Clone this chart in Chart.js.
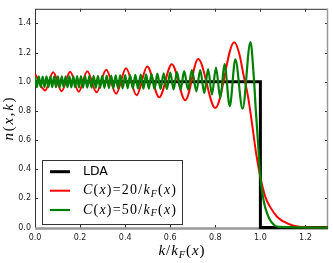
<!DOCTYPE html>
<html>
<head>
<meta charset="utf-8">
<title>n(x,k)</title>
<script src="https://cdn.jsdelivr.net/npm/chart.js@4.4.0/dist/chart.umd.min.js"></script>
<style>
  body { margin: 0; background: #fff; }
  canvas { display: block; }
</style>
</head>
<body>
<canvas id="nkChart" width="333" height="263"></canvas>
<script>
// ---------------- values ----------------
const xTicks = [0.0, 0.2, 0.4, 0.6, 0.8, 1.0, 1.2];
const yTicks = [0.0, 0.2, 0.4, 0.6, 0.8, 1.0, 1.2, 1.4];

// LDA: plain Fermi step
const ldaK = [0, 1, 1, 1.3];
const ldaN = [1, 1, 0, 0];

// C(x) = 20/kF(x)  (peaks and troughs, then the tail)
const redK = [0.000, 0.045, 0.081, 0.118, 0.156, 0.194, 0.232, 0.273, 0.316, 0.360,
              0.404, 0.451, 0.498, 0.551, 0.607, 0.667, 0.724, 0.800, 0.884,
              0.905, 0.926, 0.945, 0.965, 0.982, 1.000, 1.022, 1.044, 1.074, 1.104,
              1.148, 1.200, 1.300];
const redN = [1.055, 0.940, 1.065, 0.935, 1.068, 0.932, 1.072, 0.927, 1.082, 0.918,
              1.093, 0.907, 1.105, 0.893, 1.120, 0.873, 1.155, 0.820, 1.270,
              1.200, 1.040, 0.900, 0.690, 0.500, 0.345, 0.210, 0.140, 0.074, 0.040,
              0.012, 0.002, 0.000];

// C(x) = 50/kF(x)  (fast wiggles)
const greenK = [0.000, 0.008, 0.017, 0.025, 0.034, 0.042, 0.051, 0.059, 0.068, 0.076,
                0.085, 0.093, 0.102, 0.110, 0.119, 0.127, 0.136, 0.144, 0.153, 0.161,
                0.170, 0.178, 0.187, 0.195, 0.204,
                0.213, 0.222, 0.232, 0.241, 0.251, 0.260, 0.270, 0.279, 0.289, 0.298,
                0.308, 0.318, 0.328, 0.338, 0.348, 0.358, 0.368, 0.378,
                0.389, 0.400, 0.411, 0.422, 0.434, 0.445, 0.457, 0.469, 0.481, 0.493, 0.505,
                0.517, 0.530, 0.543, 0.557, 0.571, 0.585, 0.600, 0.615, 0.630, 0.646, 0.662,
                0.679, 0.696, 0.716, 0.733, 0.751, 0.768, 0.785, 0.803, 0.822, 0.841,
                0.864, 0.889, 0.921, 0.956,
                0.970, 0.980, 0.990, 1.000, 1.015, 1.030, 1.050, 1.080, 1.300];
const greenN = [1.035, 0.963, 1.036, 0.964, 1.035, 0.963, 1.036, 0.962, 1.035, 0.963,
                1.036, 0.962, 1.036, 0.963, 1.037, 0.962, 1.036, 0.962, 1.037, 0.961,
                1.037, 0.962, 1.038, 0.961, 1.038,
                0.960, 1.038, 0.960, 1.039, 0.959, 1.040, 0.959, 1.040, 0.958, 1.041,
                0.958, 1.042, 0.957, 1.042, 0.957, 1.043, 0.956, 1.044,
                0.955, 1.045, 0.955, 1.046, 0.954, 1.047, 0.953, 1.048, 0.953, 1.050, 0.952,
                1.052, 0.951, 1.055, 0.950, 1.058, 0.949, 1.062, 0.948, 1.066, 0.947, 1.072,
                0.945, 1.080, 0.934, 1.080, 0.922, 1.086, 0.912, 1.097, 0.889, 1.120,
                0.833, 1.153, 0.815, 1.272,
                1.050, 0.800, 0.570, 0.340, 0.180, 0.095, 0.035, 0.005, 0.000];

const legendNames = ['LDA', 'C(x)=20/k_F(x)', 'C(x)=50/k_F(x)'];
const xTitle = 'k/k_F(x)';
const yTitle = 'n(x,k)';

function toPoints(xs, ys) {
  return xs.map((x, i) => ({ x: x, y: ys[i] }));
}

// --------------- little mathtext helper -----------------
// letters italic, '_X' = subscript, everything else upright
function parseMath(str) {
  const parts = [];
  for (let i = 0; i < str.length; i++) {
    const c = str[i];
    if (c === '_') { parts.push({ t: str[i + 1], it: true, sub: true }); i++; }
    else parts.push({ t: c, it: /[a-zA-Z]/.test(c), sub: false });
  }
  return parts;
}

function mathFont(p, size) {
  const s = p.sub ? size * 0.7 : size;
  return (p.it ? 'italic ' : '') + s + 'px "Liberation Serif", serif';
}

// draws math string, stretched (by spacing) to the width seen in the figure
function drawMath(ctx, str, x, y, size, width, align) {
  const parts = parseMath(str);
  let w = 0;
  parts.forEach(p => { ctx.font = mathFont(p, size); w += ctx.measureText(p.t).width; });
  const gap = width ? Math.max(0, (width - w) / (parts.length - 1)) : 0;
  const total = w + gap * (parts.length - 1);
  let cx = align === 'center' ? x - total / 2 : x;
  ctx.textAlign = 'left';
  ctx.textBaseline = 'middle';
  parts.forEach(p => {
    ctx.font = mathFont(p, size);
    ctx.fillText(p.t, cx, p.sub ? y + size * 0.25 : y);
    cx += ctx.measureText(p.t).width + gap;
  });
}

// --------------- frame with inward ticks (matplotlib look) ---------------
const framePlugin = {
  id: 'frame',
  beforeDatasetsDraw(chart) {
    const { ctx, chartArea: a, scales } = chart;
    ctx.save();
    ctx.strokeStyle = '#333';
    ctx.lineWidth = 1;
    ctx.beginPath();
    xTicks.forEach(v => {
      const px = Math.round(scales.x.getPixelForValue(v)) + 0.5;
      ctx.moveTo(px, a.bottom); ctx.lineTo(px, a.bottom - 4);
      ctx.moveTo(px, a.top); ctx.lineTo(px, a.top + 3);
    });
    yTicks.forEach(v => {
      const py = Math.round(scales.y.getPixelForValue(v)) + 0.5;
      ctx.moveTo(a.left, py); ctx.lineTo(a.left + 3, py);
      ctx.moveTo(a.right, py); ctx.lineTo(a.right - 3, py);
    });
    ctx.stroke();

    // left + top spines dark, right + bottom greyish
    ctx.beginPath();
    ctx.moveTo(a.left + 0.5, a.bottom); ctx.lineTo(a.left + 0.5, a.top + 0.5);
    ctx.lineTo(a.right, a.top + 0.5);
    ctx.stroke();
    ctx.strokeStyle = '#999';
    ctx.lineWidth = 1.5;
    ctx.beginPath();
    ctx.moveTo(a.right - 0.5, a.top); ctx.lineTo(a.right - 0.5, a.bottom);
    ctx.stroke();
    ctx.lineWidth = 2.5;
    ctx.beginPath();
    ctx.moveTo(a.left, a.bottom - 0.5); ctx.lineTo(a.right, a.bottom - 0.5);
    ctx.stroke();
    ctx.restore();
  },
  afterDraw(chart) {
    const { ctx, chartArea: a } = chart;
    ctx.save();
    ctx.fillStyle = '#000';

    // axis titles
    drawMath(ctx, xTitle, (a.left + a.right) / 2, 251, 15, 46, 'center');
    ctx.translate(9, (a.top + a.bottom) / 2);
    ctx.rotate(-Math.PI / 2);
    drawMath(ctx, yTitle, 0, 0, 15, 43, 'center');
    ctx.restore();

    // legend box
    ctx.save();
    ctx.fillStyle = '#fff';
    ctx.strokeStyle = '#333';
    ctx.lineWidth = 1;
    ctx.fillRect(42.5, 160.5, 140, 64);
    ctx.strokeRect(42.5, 160.5, 140, 64);
    const rows = [171.7, 190.7, 210];
    chart.data.datasets.forEach((ds, i) => {
      ctx.strokeStyle = ds.borderColor;
      ctx.lineWidth = ds.borderWidth;
      ctx.beginPath();
      ctx.moveTo(50, rows[i]); ctx.lineTo(70, rows[i]);
      ctx.stroke();
      ctx.fillStyle = '#000';
      if (i === 0) {
        ctx.font = '12.5px "DejaVu Sans", sans-serif';
        ctx.textAlign = 'left';
        ctx.textBaseline = 'middle';
        ctx.fillText(legendNames[i], 83, rows[i] + 0.5);
      } else {
        drawMath(ctx, legendNames[i], 83, rows[i], 14, 93, 'left');
      }
    });
    ctx.restore();
  }
};

const tickFont = { family: '"DejaVu Sans", sans-serif', size: 8 };

const nkChart = new Chart(document.getElementById('nkChart'), {
  type: 'scatter',
  data: {
    datasets: [
      {
        label: legendNames[0],
        data: toPoints(ldaK, ldaN),
        showLine: true, borderColor: '#000', borderWidth: 3,
        pointRadius: 0, tension: 0, order: 3
      },
      {
        label: legendNames[1],
        data: toPoints(redK, redN),
        showLine: true, borderColor: '#ff0000', borderWidth: 2,
        pointRadius: 0, cubicInterpolationMode: 'monotone', order: 2
      },
      {
        label: legendNames[2],
        data: toPoints(greenK, greenN),
        showLine: true, borderColor: '#008000', borderWidth: 2.2,
        pointRadius: 0, cubicInterpolationMode: 'monotone', order: 1
      }
    ]
  },
  options: {
    responsive: false,
    animation: false,
    devicePixelRatio: 1,
    layout: { padding: { top: 5, right: 5, left: 0, bottom: 0 } },
    plugins: { legend: { display: false }, tooltip: { enabled: false } },
    scales: {
      x: {
        type: 'linear', min: 0, max: 1.3,
        afterFit(scale) { scale.height = 34; },
        afterBuildTicks(scale) { scale.ticks = xTicks.map(v => ({ value: v })); },
        grid: { display: false, drawTicks: false },
        border: { display: false },
        ticks: { padding: 4, color: '#222', font: tickFont, maxRotation: 0,
                 callback: v => v.toFixed(1) }
      },
      y: {
        type: 'linear', min: -0.01, max: 1.5,
        afterFit(scale) { scale.width = 35; },
        afterBuildTicks(scale) { scale.ticks = yTicks.map(v => ({ value: v })); },
        grid: { display: false, drawTicks: false },
        border: { display: false },
        ticks: { padding: 4, color: '#222', font: tickFont,
                 callback: v => v.toFixed(1) }
      }
    }
  },
  plugins: [framePlugin]
});
</script>
</body>
</html>
